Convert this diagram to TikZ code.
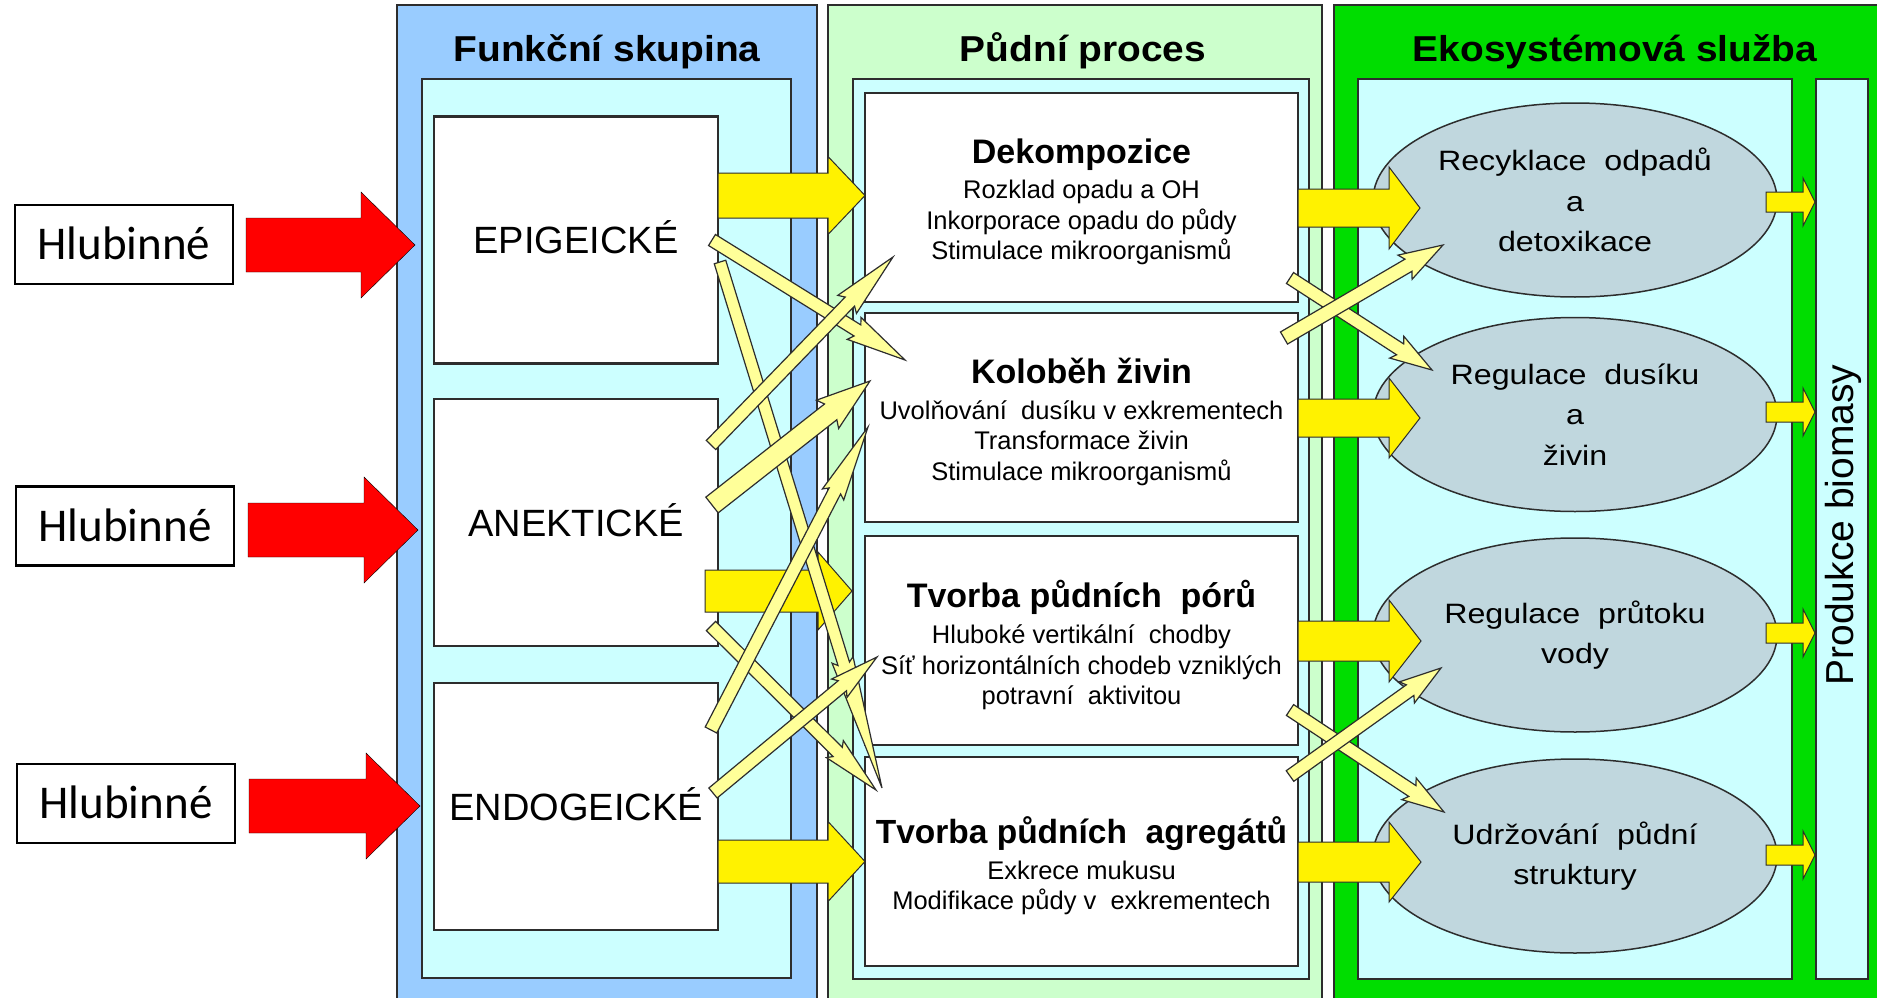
\documentclass[tikz,border=0pt]{standalone}
\usepackage{fontspec}
\setmainfont{Liberation Sans}
\newfontfamily\calfont{Carlito}
\newfontfamily\widefont{Liberation Sans}[FakeStretch=1.15]
\newfontfamily\titlefont{Liberation Sans}[FakeStretch=1.08]
\usetikzlibrary{shapes.geometric,calc}

\definecolor{panelblue}{RGB}{153,204,255}
\definecolor{palecyan}{RGB}{204,255,255}
\definecolor{palegreen}{RGB}{204,255,204}
\definecolor{vividgreen}{RGB}{0,221,0}
\definecolor{ellfill}{RGB}{192,215,222}
\definecolor{edge}{RGB}{45,45,45}
\definecolor{paleyellow}{RGB}{255,255,153}

% horizontal block arrow: style, start, tip, shaft half width, head half width, head length
\newcommand\blockarr[6]{%
  \filldraw[#1] ([yshift=#4pt]#2) -- ([xshift=-#6pt,yshift=#4pt]#3)
    -- ([xshift=-#6pt,yshift=#5pt]#3) -- (#3)
    -- ([xshift=-#6pt,yshift=-#5pt]#3) -- ([xshift=-#6pt,yshift=-#4pt]#3)
    -- ([yshift=-#4pt]#2) -- cycle;}

% slanted slim arrow: start, tip, shaft half width, head half width, head length
\newcommand\slimarr[5]{%
  \pgfmathsetmacro\barbpos{#5+4}%
  \coordinate (hbase) at ($(#2)!#5pt!(#1)$);
  \coordinate (hbarb) at ($(#2)!\barbpos pt!(#1)$);
  \filldraw[slimarrow] ($(#1)!#3pt!90:(#2)$) -- ($(hbase)!#3pt!90:(#2)$)
    -- ($(hbarb)!#4pt!90:(#2)$) -- (#2) -- ($(hbarb)!#4pt!-90:(#2)$)
    -- ($(hbase)!#3pt!-90:(#2)$) -- ($(#1)!#3pt!-90:(#2)$) -- cycle;}

\begin{document}
\begin{tikzpicture}[x=1pt,y=-1pt,
  panelbox/.style={draw=edge, line width=2pt},
  groupbox/.style={draw=edge, line width=2.5pt, fill=white, inner sep=0pt,
    minimum width=284pt, minimum height=247pt, text height=27.2pt, text depth=0pt,
    font=\fontsize{38}{44}\selectfont},
  procbox/.style={draw=edge, line width=2.5pt, fill=white, inner sep=0pt,
    minimum width=433pt, minimum height=209pt},
  proctext/.style={align=center, inner sep=0pt, font=\fontsize{25.5}{30.5}\selectfont},
  proctitle/.style={font=\bfseries\fontsize{34}{34}\selectfont},
  service/.style={ellipse, draw=edge, line width=1.5pt, fill=ellfill, inner sep=0pt,
    minimum width=404pt, minimum height=194pt, align=center,
    font=\widefont\fontsize{28}{40.5}\selectfont},
  labelbox/.style={draw=black, line width=2.5pt, fill=white, inner sep=0pt,
    minimum width=218pt, minimum height=79pt, text height=30pt, text depth=0pt,
    font=\calfont\fontsize{47}{50}\selectfont},
  heading/.style={font=\titlefont\bfseries\fontsize{36}{40}\selectfont, inner sep=0pt, anchor=base},
  bigarrow/.style={fill=yellow, draw=edge, line width=1pt},
  redarrow/.style={fill=red},
  slimarrow/.style={fill=paleyellow, draw=edge, line width=1.2pt, line join=miter}]

\clip (0,0) rectangle (1877,998);
\fill[white] (0,0) rectangle (1877,998);

% ---- column frames ----
\draw[panelbox, fill=panelblue] (397,5) rectangle (817,1012);
\draw[panelbox, fill=palecyan] (422,79) rectangle (791,978);
\draw[panelbox, fill=palegreen] (828,5) rectangle (1322,1012);
\draw[panelbox, fill=palecyan] (853,79) rectangle (1309,979);
\draw[panelbox, fill=vividgreen] (1334,5) rectangle (1890,1012);
\draw[panelbox, fill=palecyan] (1358,79) rectangle (1792,979);

\node[heading] (h1) at (607,62) {Funkční skupina};
\node[heading] (h2) at (1083,62) {Půdní proces};
\node[heading] (h3) at (1615,62) {Ekosystémová služba};

% ---- functional groups ----
\node[groupbox] (epi) at (576,240) {EPIGEICKÉ};
\node[groupbox] (ane) at (576,522.5) {ANEKTICKÉ};
\node[groupbox] (endo) at (576,806.5) {ENDOGEICKÉ};

% ---- soil processes ----
\node[procbox] (dek) at (1081.5,197.5) {};
\node[procbox] (kol) at (1081.5,417.5) {};
\node[procbox] (por) at (1081.5,640.5) {};
\node[procbox] (agr) at (1081.5,861.5) {};
\node[proctext] (dekt) at (1081.5,202) {{\bfseries\fontsize{34}{34}\selectfont Dekompozice}\\[5pt]
  Rozklad opadu a OH\\ Inkorporace opadu do půdy\\ Stimulace mikroorganismů};
\node[proctext] (kolt) at (1081.5,422) {{\bfseries\fontsize{34}{34}\selectfont Koloběh živin}\\[5pt]
  Uvolňování\ \ dusíku v exkrementech\\ Transformace živin\\ Stimulace mikroorganismů};
\node[proctext] (port) at (1081.5,645) {{\bfseries\fontsize{34}{34}\selectfont Tvorba půdních\ \ pórů}\\[6pt]
  Hluboké vertikální\ \ chodby\\ Síť horizontálních chodeb vzniklých\\ potravní\ \ aktivitou};
\node[proctext] (agrt) at (1081.5,866) {{\bfseries\fontsize{33.5}{34}\selectfont Tvorba půdních\ \ agregátů}\\[5pt]
  Exkrece mukusu\\ Modifikace půdy v\ \ exkrementech};

% ---- ecosystem services ----
\node[service] (rec) at (1575,200) {Recyklace\ \ odpadů\\ a\\ detoxikace};
\node[service] (dus) at (1575,414.5) {Regulace\ \ dusíku\\ a\\ živin};
\node[service] (vod) at (1575,635) {Regulace\ \ průtoku\\ vody};
\node[service] (str) at (1575,856) {Udržování\ \ půdní\\ struktury};

\node[draw=edge, line width=2pt, fill=palecyan, inner sep=0pt,
  minimum width=52pt, minimum height=900pt] (bio) at (1842,529) {};
\node[rotate=90, inner sep=0pt, font=\fontsize{39}{40}\selectfont] (biot) at (1843,525) {Produkce biomasy};

% ---- block arrows: groups to processes ----
\coordinate (g1s) at (718,195.5);  \coordinate (g1e) at (865,195.5);
\coordinate (g2s) at (705,591);    \coordinate (g2e) at (852,591);
\coordinate (g3s) at (718,861.5);  \coordinate (g3e) at (865,861.5);
\blockarr{bigarrow}{g1s}{g1e}{22.5}{39}{37}
\blockarr{bigarrow}{g2s}{g2e}{21}{39}{34}
\blockarr{bigarrow}{g3s}{g3e}{21.5}{40}{37}

% ---- block arrows: processes to services ----
\coordinate (p1s) at (1298,208);  \coordinate (p1e) at (1420,208);
\coordinate (p2s) at (1298,418);  \coordinate (p2e) at (1420,418);
\coordinate (p3s) at (1298,641);  \coordinate (p3e) at (1421,641);
\coordinate (p4s) at (1298,862);  \coordinate (p4e) at (1421,862);
\blockarr{bigarrow}{p1s}{p1e}{19}{41}{31}
\blockarr{bigarrow}{p2s}{p2e}{19}{40}{31}
\blockarr{bigarrow}{p3s}{p3e}{20}{41}{32}
\blockarr{bigarrow}{p4s}{p4e}{20}{40}{32}

% ---- slim cross links: groups to processes ----
\coordinate (c1s) at (712,240);  \coordinate (c1e) at (905,360);
\coordinate (c2s) at (720,262);  \coordinate (c2e) at (882,788);
\coordinate (c3s) at (711,445);  \coordinate (c3e) at (893,257);
\coordinate (c4s) at (712,505);  \coordinate (c4e) at (870,381);
\coordinate (c5s) at (711,730);  \coordinate (c5e) at (868,427);
\coordinate (c6s) at (713,793);  \coordinate (c6e) at (877,657);
\coordinate (c7s) at (711,626);  \coordinate (c7e) at (876,790);
\slimarr{c2s}{c2e}{6}{11}{130}
\slimarr{c1s}{c1e}{6.5}{13}{56}
\slimarr{c3s}{c3e}{6.5}{13}{62}
\slimarr{c4s}{c4e}{10}{18}{50}
\slimarr{c7s}{c7e}{6.5}{12}{54}
\slimarr{c5s}{c5e}{6.5}{12}{72}
\slimarr{c6s}{c6e}{6.5}{12}{45}

% ---- slim cross links: processes to services ----
\coordinate (s1s) at (1290,278);  \coordinate (s1e) at (1432,370);
\coordinate (s2s) at (1284,338);  \coordinate (s2e) at (1443,245);
\coordinate (s3s) at (1290,710);  \coordinate (s3e) at (1444,812);
\coordinate (s4s) at (1290,776);  \coordinate (s4e) at (1441,668);
\slimarr{s1s}{s1e}{6.5}{13}{38}
\slimarr{s2s}{s2e}{7}{14}{40}
\slimarr{s3s}{s3e}{6.5}{13}{38}
\slimarr{s4s}{s4e}{6.5}{13}{38}

% ---- small arrows into biomass production ----
\coordinate (b1s) at (1766,202);  \coordinate (b1e) at (1815,202);
\coordinate (b2s) at (1766,412);  \coordinate (b2e) at (1815,412);
\coordinate (b3s) at (1766,633);  \coordinate (b3e) at (1815,633);
\coordinate (b4s) at (1766,855);  \coordinate (b4e) at (1815,855);
\blockarr{bigarrow}{b1s}{b1e}{10}{24}{12}
\blockarr{bigarrow}{b2s}{b2e}{10}{24}{12}
\blockarr{bigarrow}{b3s}{b3e}{10}{24}{12}
\blockarr{bigarrow}{b4s}{b4e}{10}{24}{12}

% ---- depth labels and red arrows ----
\node[labelbox] (hl1) at (124,244.5) {Hlubinné};
\node[labelbox] (hl2) at (125,526) {Hlubinné};
\node[labelbox] (hl3) at (126,803.5) {Hlubinné};
\coordinate (r1s) at (246,245);  \coordinate (r1e) at (415,245);
\coordinate (r2s) at (248,530);  \coordinate (r2e) at (418,530);
\coordinate (r3s) at (249,806);  \coordinate (r3e) at (420,806);
\blockarr{redarrow}{r1s}{r1e}{27}{53}{54}
\blockarr{redarrow}{r2s}{r2e}{27}{53}{54}
\blockarr{redarrow}{r3s}{r3e}{27}{53}{54}
\end{tikzpicture}
\end{document}
